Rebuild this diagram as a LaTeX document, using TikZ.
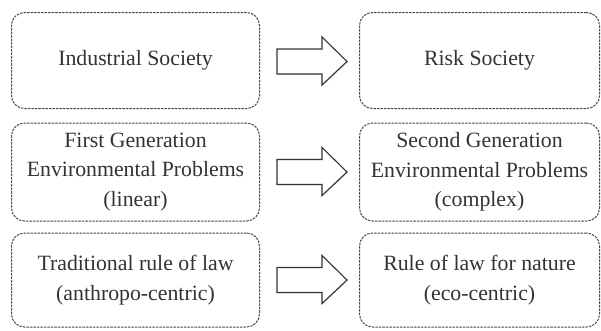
\documentclass[tikz,border=0pt]{standalone}
\usepackage{fontspec}
\setmainfont{Liberation Serif}
\usetikzlibrary{shadows}
\definecolor{dashgray}{HTML}{4A4A4A}
\definecolor{txtgray}{HTML}{333333}
\tikzset{
  box/.style={draw=dashgray, line width=1pt, dash pattern=on 2.4pt off 1.1pt,
    rounded corners=13pt, text=txtgray, align=center,
    font=\fontsize{21.8}{29.5}\selectfont},
  bigarrow/.style={draw=txtgray, line width=1.1pt, fill=white,
    drop shadow={shadow xshift=0.8pt, shadow yshift=-0.8pt, opacity=0.25}}
}
\begin{document}
\begin{tikzpicture}[x=1pt,y=-1pt]
\useasboundingbox (0,0) rectangle (601,330);
% left boxes
\node[box] (l1) at (135.5,60.5) [minimum width=248pt, minimum height=96pt] {Industrial Society};
\node[box] (l2) at (135.5,172) [minimum width=248pt, minimum height=98pt] {First Generation\\Environmental Problems\\(linear)};
\node[box] (l3) at (135.5,280) [minimum width=248pt, minimum height=94pt] {Traditional rule of law\\(anthropo-centric)};
% right boxes
\node[box] (r1) at (479.5,60.5) [minimum width=240pt, minimum height=96pt] {Risk Society};
\node[box] (r2) at (479.5,172) [minimum width=240pt, minimum height=98pt] {Second Generation\\Environmental Problems\\(complex)};
\node[box] (r3) at (479.5,280) [minimum width=240pt, minimum height=94pt] {Rule of law for nature\\(eco-centric)};
% arrows
\foreach \r/\c in {1/61.5, 2/172, 3/280}{
  \draw[bigarrow] (277,\c-12.5) -- (322,\c-12.5) -- (322,\c-24.5) -- (347,\c) -- (322,\c+23.5) -- (322,\c+12.5) -- (277,\c+12.5) -- cycle;
}
\end{tikzpicture}
\end{document}
